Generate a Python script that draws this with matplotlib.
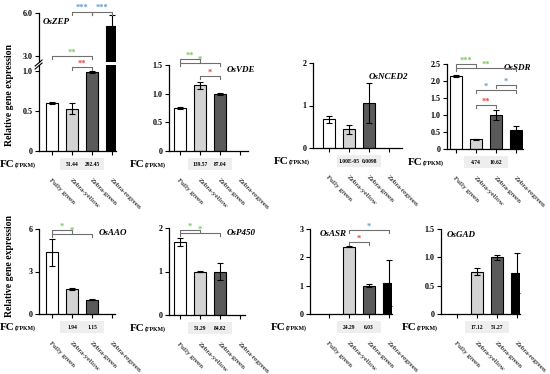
import numpy as np
import matplotlib
matplotlib.use("Agg")
import matplotlib.pyplot as plt
from matplotlib.transforms import blended_transform_factory
from matplotlib.patches import Rectangle

plt.rcParams['font.family'] = ['Liberation Serif', 'DejaVu Serif']

nan = np.nan
categories = ["Fully green", "Zebra-yellow", "Zebra-green", "Zebra-regreen"]
bar_colors = ["white", "#d3d3d3", "#5a5a5a", "black"]

# relative expression (mean, error) per gene
zep_mean = [0.60, 0.53, 0.99, 5.10]
zep_err = [0.015, 0.07, 0.01, 0.75]
vde_mean = [0.75, 1.15, 0.99, nan]
vde_err = [0.01, 0.06, 0.02, nan]
nced2_mean = [0.68, 0.44, 1.05, nan]
nced2_err = [0.08, 0.10, 0.47, nan]
sdr_mean = [2.15, 0.28, 1.00, 0.57]
sdr_err = [0.04, 0.01, 0.15, 0.12]
aao_mean = [4.35, 1.78, 1.00, nan]
aao_err = [0.95, 0.07, 0.04, nan]
p450_mean = [1.68, 1.00, 1.00, nan]
p450_err = [0.10, 0.005, 0.20, nan]
asr_mean = [nan, 2.38, 1.00, 1.10]
asr_err = [nan, 0.01, 0.06, 0.82]
gad_mean = [nan, 0.75, 1.00, 0.72]
gad_err = [nan, 0.07, 0.05, 0.35]

# FC (FPKM) for Zebra-yellow and Zebra-green
zep_fc = ["51.44", "292.45"]
vde_fc = ["139.57", "87.04"]
nced2_fc = ["1.00E-05", "0.0098"]
sdr_fc = ["4.74", "10.62"]
aao_fc = ["1.94", "1.15"]
p450_fc = ["51.29", "84.82"]
asr_fc = ["24.29", "6.03"]
gad_fc = ["17.12", "51.27"]

GREEN, RED, BLUE = "#7dc462", "#e8423f", "#5b9bd5"

# significance brackets: (from, to, height, stars, colour, star x)
zep_sig_upper = [(1, 2, 6.1, "***", BLUE, None), (2, 3, 6.1, "***", BLUE, None),
                 (0, 2, 3.0, "**", GREEN, None)]
zep_sig_lower = [(1, 2, 1.05, "**", RED, None)]
vde_sig = [(0, 1, 1.60, "**", GREEN, None), (0, 2, 1.53, "*", GREEN, None),
           (1, 2, 1.31, "*", RED, None)]
sdr_sig = [(0, 1, 2.50, "***", GREEN, None), (0, 3, 2.38, "**", GREEN, None),
           (1, 3, 1.74, "*", BLUE, 1.5), (2, 3, 1.88, "*", BLUE, None),
           (1, 2, 1.29, "**", RED, None)]
aao_sig = [(0, 1, 5.9, "*", GREEN, None), (0, 2, 5.63, "*", GREEN, None)]
p450_sig = [(0, 1, 1.95, "*", GREEN, None), (0, 2, 1.88, "*", GREEN, None)]
asr_sig = [(1, 3, 2.97, "*", BLUE, None), (1, 2, 2.54, "*", RED, None)]

W, H = 550, 374
fig = plt.figure(figsize=(5.5, 3.74), dpi=100)
x = np.arange(len(categories))


def add_ax(left, x0, right, bottom, top):
    ax = fig.add_axes([left / W, 1 - bottom / H, (right - left) / W, (bottom - top) / H])
    ax.set_xlim((left - x0) / 20, (right - x0) / 20)
    ax.patch.set_visible(False)
    return ax


def style(ax, ylim, ticks, labels):
    ax.set_ylim(*ylim)
    ax.set_yticks(ticks)
    ax.set_yticklabels(labels, fontweight='bold')
    for s in ['top', 'right']:
        ax.spines[s].set_visible(False)
    for s in ['left', 'bottom']:
        ax.spines[s].set_linewidth(0.9)
    ax.tick_params(direction='out', length=3, width=0.8, labelsize=5.8, pad=1.5)
    ax.set_xticks(x)
    ax.set_xticklabels(categories, rotation=-45, ha='left', va='top',
                       rotation_mode='anchor', fontsize=5.3)
    ax.tick_params(axis='x', pad=16)


def draw_bars(ax, mean, err):
    m = np.array(mean)
    e = np.array(err)
    ok = ~np.isnan(m)
    ax.bar(x[ok], m[ok], width=0.62, color=np.array(bar_colors)[ok],
           edgecolor='black', linewidth=0.8, zorder=2)
    ax.errorbar(x[ok], m[ok], yerr=e[ok], fmt='none', ecolor='black',
                elinewidth=0.8, capsize=2.5, capthick=0.8, zorder=3)


def brackets(ax, sigs):
    y0, y1 = ax.get_ylim()
    hpx = ax.get_position().height * H
    unit = (y1 - y0) / hpx
    for i, j, y, lab, col, xs in sigs:
        ax.plot([i, i, j, j], [y - 3 * unit, y, y, y - 3 * unit], color='#707070',
                lw=0.8, clip_on=False, zorder=4)
        xs = (i + j) / 2 if xs is None else xs
        ax.text(xs, y + 3.5 * unit, lab, color=col, ha='center', va='center',
                fontsize=6, fontweight='bold', clip_on=False)


def fc_row(ax, fc):
    tr = blended_transform_factory(ax.transData, ax.transAxes)
    hpx = ax.get_position().height * H
    ax.add_patch(Rectangle((0.4, -19 / hpx), 2.2, 12 / hpx, transform=tr,
                           facecolor='#eeeeee', edgecolor='none', clip_on=False))
    for k, v in zip([1, 2], fc):
        ax.annotate(v, xy=(k, 0), xycoords=('data', 'axes fraction'),
                    xytext=(0, -9.5), textcoords='offset points', ha='center',
                    va='center', fontsize=4.0, fontweight='bold')
    ax.annotate("(FPKM)", xy=(0, 0), xycoords='axes fraction', xytext=(-2.5, -10),
                textcoords='offset points', ha='right', va='center', fontsize=4.2,
                fontweight='bold')
    ax.annotate("FC", xy=(0, 0), xycoords='axes fraction', xytext=(-17.5, -9.5),
                textcoords='offset points', ha='right', va='center', fontsize=8,
                fontweight='bold')


def gene(ax, name, fx, fy):
    ax.text(fx, fy, name, transform=ax.transAxes, ha='left', va='center',
            fontsize=6.5, fontweight='bold', style='italic', clip_on=False)


# OsZEP (broken axis)
ax1 = add_ax(39, 52, 116, 151, 65)
style(ax1, (0, 1.075), [0, 0.5, 1.0], ["0", "0.5", "1.0"])
draw_bars(ax1, zep_mean, zep_err)
brackets(ax1, zep_sig_lower)
fc_row(ax1, zep_fc)
ax1u = add_ax(39, 52, 116, 62, 13)
style(ax1u, (2.58, 6.0), [3.0, 6.0], ["3.0", "6.0"])
ax1u.spines['bottom'].set_visible(False)
ax1u.set_xticks([])
draw_bars(ax1u, zep_mean, zep_err)
brackets(ax1u, zep_sig_upper)
gene(ax1u, "OsZEP", 0.05, 0.82)
for dy in [0, 3]:
    ax1u.plot([-0.05, 0.04], [(-4 - dy) / 49, (2 - dy) / 49], transform=ax1u.transAxes,
              color='black', lw=0.8, clip_on=False)

# OsVDE
ax2 = add_ax(169, 180, 248, 151, 65)
style(ax2, (0, 1.5), [0, 0.5, 1.0, 1.5], ["0", "0.5", "1.0", "1.5"])
draw_bars(ax2, vde_mean, vde_err)
brackets(ax2, vde_sig)
fc_row(ax2, vde_fc)
gene(ax2, "OsVDE", 0.73, 0.94)

# OsNCED2
ax3 = add_ax(313, 329, 402, 148, 63)
style(ax3, (0, 2), [0, 1, 2], ["0", "1", "2"])
draw_bars(ax3, nced2_mean, nced2_err)
fc_row(ax3, nced2_fc)
gene(ax3, "OsNCED2", 0.62, 0.84)

# OsSDR
ax4 = add_ax(447, 456, 523, 149, 64)
style(ax4, (0, 2.5), [0, 0.5, 1.0, 1.5, 2.0, 2.5], ["0", "0.5", "1.0", "1.5", "2.0", "2.5"])
draw_bars(ax4, sdr_mean, sdr_err)
brackets(ax4, sdr_sig)
fc_row(ax4, sdr_fc)
gene(ax4, "OsSDR", 0.74, 0.95)

# OsAAO
ax5 = add_ax(39, 52, 115, 314, 229)
style(ax5, (0, 6), [0, 3, 6], ["0", "3", "6"])
draw_bars(ax5, aao_mean, aao_err)
brackets(ax5, aao_sig)
fc_row(ax5, aao_fc)
gene(ax5, "OsAAO", 0.79, 0.95)

# OsP450
ax6 = add_ax(169, 180, 245, 315, 228)
style(ax6, (0, 2), [0, 1, 2], ["0", "1", "2"])
draw_bars(ax6, p450_mean, p450_err)
brackets(ax6, p450_sig)
fc_row(ax6, p450_fc)
gene(ax6, "OsP450", 0.76, 0.94)

# OsASR
ax7 = add_ax(310, 329, 392, 314, 229)
style(ax7, (0, 3), [0, 1, 2, 3], ["0", "1", "2", "3"])
draw_bars(ax7, asr_mean, asr_err)
brackets(ax7, asr_sig)
fc_row(ax7, asr_fc)
gene(ax7, "OsASR", 0.12, 0.94)

# OsGAD
ax8 = add_ax(441, 457, 520, 314, 229)
style(ax8, (0, 1.5), [0, 0.5, 1.0, 1.5], ["0", "0.5", "1.0", "1.5"])
draw_bars(ax8, gad_mean, gad_err)
fc_row(ax8, gad_fc)
gene(ax8, "OsGAD", 0.07, 0.93)

for yc in [95, 266]:
    fig.text(10 / W, 1 - yc / H, "Relative gene expression", rotation=90,
             ha='center', va='center', fontsize=7, fontweight='bold')

fig.savefig("out.png", dpi=100)
